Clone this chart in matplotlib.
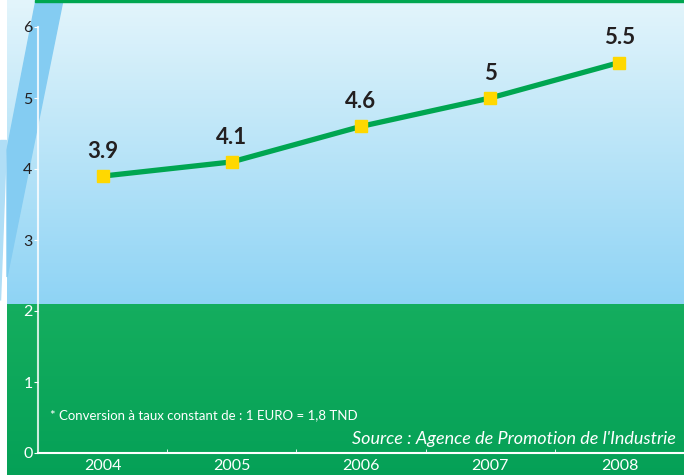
import numpy as np
import matplotlib.pyplot as plt

""" Data """

# Values (million, by year)
years = ['2004', '2005', '2006', '2007', '2008']
values = np.array([3.9, 4.1, 4.6, 5, 5.5])
positions = np.arange(len(years))

plt.rcParams['font.family'] = ['Lato', 'DejaVu Sans']

""" Background using Matplotlib """

plt.figure(figsize=(6.84, 4.75), dpi=100)

# Background drawn in pixel coordinates
plt.axes([0, 0, 1, 1])
plt.xlim(0, 684)
plt.ylim(475, 0)
plt.axis('off')

# Sky gradient (light at the top, darker towards the green band)
sky = np.linspace(0, 1, 200).reshape(-1, 1)
top_color = np.array([0.89, 0.96, 0.985])
bottom_color = np.array([0.56, 0.83, 0.96])
sky_rgb = top_color + (bottom_color - top_color) * sky[..., None]
plt.imshow(sky_rgb, extent=[7, 684, 304, 0], aspect='auto', zorder=0)

# Green band
green = np.linspace(0, 1, 50).reshape(-1, 1)
green_top = np.array([0.08, 0.68, 0.37])
green_bottom = np.array([0.02, 0.63, 0.34])
green_rgb = green_top + (green_bottom - green_top) * green[..., None]
plt.imshow(green_rgb, extent=[7, 684, 475, 304], aspect='auto', zorder=0)

# Diagonal stripe on the left
plt.fill([6, 0, 0], [140, 140, 300], color='#b0def6', zorder=1)
plt.fill([36, 63, 7, 7], [0, 0, 277, 150], color='#84ccf2', zorder=2)

# Green line on top
plt.fill([35, 684, 684, 35], [0, 0, 2, 2], color='#00a650', zorder=3)

""" Line chart using Matplotlib """

plt.axes([38 / 684, 22 / 475, 646 / 684, 426 / 475])
plt.gca().patch.set_alpha(0)

plt.plot(positions, values, color='#00a651', linewidth=3.8, zorder=3)
plt.plot(positions, values, 's', color='#ffd800', markersize=9, zorder=4)

for x, v in zip(positions, values):
    plt.text(x, v + 0.2, f'{v:g}', ha='center', va='bottom',
             fontsize=16, fontweight='bold', color='#231f20')

plt.xlim(-0.5, 4.5)
plt.ylim(0, 6)

plt.xticks(positions, years, color='white', fontsize=11.5)
plt.gca().set_xticks(positions[:-1] + 0.5, minor=True)
plt.tick_params(axis='x', which='major', length=0, pad=4)
plt.tick_params(axis='x', which='minor', length=3, color='white', direction='in')

plt.yticks(range(7), [str(i) for i in range(7)], fontsize=11.5)
plt.tick_params(axis='y', length=3, color='white', pad=1)
for label in plt.gca().get_yticklabels():
    if float(label.get_text()) <= 2:
        label.set_color('white')
    else:
        label.set_color('#231f20')

for side in ['top', 'right']:
    plt.gca().spines[side].set_visible(False)
plt.gca().spines['left'].set_color('white')
plt.gca().spines['left'].set_alpha(0.8)
plt.gca().spines['bottom'].set_color('white')
plt.gca().spines['left'].set_linewidth(1.5)
plt.gca().spines['bottom'].set_linewidth(1.5)

# Notes
plt.figtext(50 / 684, 1 - 415 / 475, '* Conversion à taux constant de : 1 EURO = 1,8 TND',
            color='white', fontsize=9.5, va='center')
plt.figtext(676 / 684, 1 - 439 / 475, "Source : Agence de Promotion de l'Industrie",
            color='white', fontsize=13, style='italic', ha='right', va='center')

plt.savefig('out.png', dpi=100)
